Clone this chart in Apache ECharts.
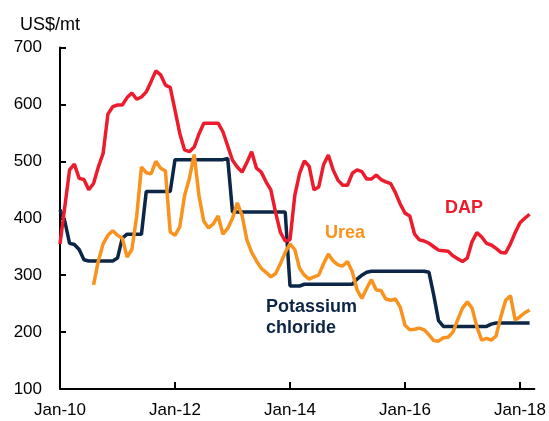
<!DOCTYPE html>
<html>
<head>
<meta charset="utf-8">
<script src="https://cdn.jsdelivr.net/npm/echarts@6/dist/echarts.min.js"></script>
<style>
  html, body { margin: 0; padding: 0; background: #fff; }
  #chart { width: 549px; height: 421px; }
</style>
</head>
<body>
<div id="chart"></div>
<script>
// monthly prices, Jan-10 .. Mar-18 (US$/mt)
var dap = [355,420,485,495,470,468,450,461,490,514,583,596,599,599,612,620,609,613,622,640,
           659,652,634,630,590,549,520,517,525,548,567,567,567,567,552,527,502,490,481,498,
           517,488,481,464,450,410,375,360,362,440,479,501,491,450,455,494,511,485,467,458,
           458,479,485,482,469,469,476,468,464,461,445,425,409,404,372,362,360,356,350,344,
           343,342,334,329,324,330,359,375,367,356,353,347,340,339,355,375,392,400,407];
var urea = [null,null,null,null,null,null,null,283,325,355,370,378,370,365,332,345,403,
            490,480,478,500,488,483,376,370,385,440,470,512,440,395,383,390,404,372,382,400,
            427,405,362,340,325,312,305,297,303,320,340,355,345,312,300,293,297,300,320,337,
            325,318,316,324,306,274,259,277,292,274,273,258,256,258,244,212,204,205,207,204,
            195,185,184,190,191,200,222,242,253,242,209,186,189,186,193,227,256,264,221,227,
            234,239];
var potash = [415,395,356,354,345,327,325,325,325,325,325,325,330,365,372,372,372,372,447,447,
              447,447,447,447,503,503,503,503,503,503,503,503,503,503,503,505,411,411,411,411,
              411,411,411,411,411,411,411,411,281,281,281,284,284,284,284,284,284,284,284,284,
              284,284,293,300,305,307,307,307,307,307,307,307,307,307,307,307,307,305,265,220,
              210,210,210,210,210,210,210,210,210,210,214,216,216,216,216,216,216,216,216];
var tickLabels = ['Jan-10', 'Jan-12', 'Jan-14', 'Jan-16', 'Jan-18'];

// category per month, Jan-10 .. Apr-18
var months = [];
for (var i = 0; i < 100; i++) {
    months.push(i);
}

var RED = '#ec1c2d', ORANGE = '#f7931e', NAVY = '#0b2646';
var FONT = '"Liberation Sans", Arial, sans-serif';

var myChart = echarts.init(document.getElementById('chart'));

var option = {
    animation: false,
    grid: { left: 60, right: 14, top: 47.5, bottom: 32 },
    xAxis: {
        type: 'category',
        data: months,
        boundaryGap: false,
        axisLine: { lineStyle: { color: '#000', width: 2 } },
        axisTick: {
            inside: true, length: 7,
            lineStyle: { color: '#000', width: 2 },
            interval: function (idx) { return idx % 24 === 0; }
        },
        axisLabel: {
            interval: function (idx) { return idx % 24 === 0; },
            formatter: function (v, idx) { return tickLabels[idx / 24] || ''; },
            color: '#000', fontSize: 17, fontFamily: FONT, margin: 13
        },
        splitLine: { show: false }
    },
    yAxis: {
        type: 'value',
        min: 100, max: 700, interval: 100,
        axisLine: { show: true, lineStyle: { color: '#000', width: 2 } },
        axisTick: { show: true, inside: true, length: 6, lineStyle: { color: '#000', width: 2 } },
        axisLabel: { color: '#000', fontSize: 17, fontFamily: FONT, margin: 18 },
        splitLine: { show: false }
    },
    series: [
        {
            name: 'Potassium chloride', type: 'line', data: potash,
            showSymbol: false, lineStyle: { color: NAVY, width: 3.5 }
        },
        {
            name: 'Urea', type: 'line', data: urea,
            showSymbol: false, lineStyle: { color: ORANGE, width: 3.5 }
        },
        {
            name: 'DAP', type: 'line', data: dap,
            showSymbol: false, lineStyle: { color: RED, width: 3.5 }
        }
    ],
    graphic: [
        {
            type: 'text', x: 20, y: 25,
            style: { text: 'US$/mt', fill: '#000', font: '18px ' + FONT, verticalAlign: 'middle' }
        },
        {
            type: 'text', x: 464, y: 208,
            style: { text: 'DAP', fill: RED, font: 'bold 18px ' + FONT, align: 'center', verticalAlign: 'middle' }
        },
        {
            type: 'text', x: 345, y: 233,
            style: { text: 'Urea', fill: ORANGE, font: 'bold 18px ' + FONT, align: 'center', verticalAlign: 'middle' }
        },
        {
            type: 'text', x: 266, y: 318,
            style: { text: 'Potassium\nchloride', fill: NAVY, font: 'bold 18px ' + FONT, lineHeight: 21, verticalAlign: 'middle' }
        }
    ]
};

myChart.setOption(option);
</script>
</body>
</html>
